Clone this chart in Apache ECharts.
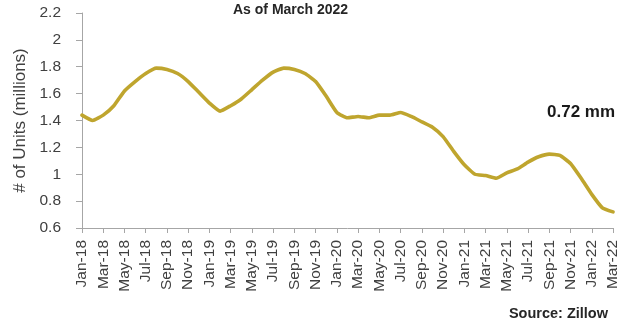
<!DOCTYPE html>
<html>
<head>
<meta charset="utf-8">
<script src="https://cdn.jsdelivr.net/npm/echarts@6/dist/echarts.min.js"></script>
<style>
  html, body { margin: 0; padding: 0; background: #fff; }
  #chart { width: 621px; height: 326px; }
</style>
</head>
<body>
<div id="chart"></div>
<script>
// Monthly inventory, Jan 2018 through Mar 2022 (millions of units)
const months = [
  'Jan-18','Feb-18','Mar-18','Apr-18','May-18','Jun-18','Jul-18','Aug-18','Sep-18','Oct-18','Nov-18','Dec-18',
  'Jan-19','Feb-19','Mar-19','Apr-19','May-19','Jun-19','Jul-19','Aug-19','Sep-19','Oct-19','Nov-19','Dec-19',
  'Jan-20','Feb-20','Mar-20','Apr-20','May-20','Jun-20','Jul-20','Aug-20','Sep-20','Oct-20','Nov-20','Dec-20',
  'Jan-21','Feb-21','Mar-21','Apr-21','May-21','Jun-21','Jul-21','Aug-21','Sep-21','Oct-21','Nov-21','Dec-21',
  'Jan-22','Feb-22','Mar-22'
];
const inventory = [
  1.44, 1.40, 1.44, 1.51, 1.62, 1.69, 1.75, 1.79, 1.78, 1.75, 1.69, 1.61,
  1.53, 1.47, 1.51, 1.56, 1.63, 1.70, 1.76, 1.79, 1.78, 1.75, 1.69, 1.58,
  1.46, 1.42, 1.43, 1.42, 1.44, 1.44, 1.46, 1.43, 1.39, 1.35, 1.28, 1.17,
  1.07, 1.00, 0.99, 0.97, 1.01, 1.04, 1.09, 1.13, 1.15, 1.14, 1.08, 0.97,
  0.85, 0.75, 0.72
];
const yMin = 0.6, yMax = 2.2, yStep = 0.2;
const titleText = 'As of March 2022';
const yAxisTitle = '# of Units (millions)';
const sourceText = 'Source: Zillow';
const latestText = inventory[inventory.length - 1].toFixed(2) + ' mm';

const chart = echarts.init(document.getElementById('chart'), null, { renderer: 'canvas' });
const font = '"Liberation Sans", Arial, sans-serif';
const axisColor = '#a6a6a6';
const textColor = '#404040';

chart.setOption({
  animation: false,
  backgroundColor: '#ffffff',
  textStyle: { fontFamily: font },
  grid: { left: 82, right: 6, top: 13, bottom: 98, containLabel: false },
  graphic: [
    { type: 'text', left: 233, top: 3,
      style: { text: titleText, font: 'bold 14px ' + font, fill: '#262626' } },
    { type: 'text', left: 547, top: 104,
      style: { text: latestText, font: 'bold 17px ' + font, fill: '#1a1a1a' } },
    { type: 'text', right: 13, top: 306,
      style: { text: sourceText, font: 'bold 14.5px ' + font, fill: '#262626' } }
  ],
  xAxis: {
    type: 'category',
    data: months,
    boundaryGap: false,
    axisLine: { lineStyle: { color: axisColor, width: 1 } },
    axisTick: { show: true, interval: 1, length: 5, lineStyle: { color: axisColor } },
    axisLabel: { interval: 1, rotate: 90, fontSize: 15.5, color: textColor, margin: 12, fontFamily: font },
    splitLine: { show: false }
  },
  yAxis: {
    type: 'value',
    min: yMin, max: yMax, interval: yStep,
    name: yAxisTitle,
    nameLocation: 'middle',
    nameGap: 53,
    nameRotate: 90,
    nameTextStyle: { fontSize: 17, color: textColor, fontFamily: font },
    axisLine: { show: true, lineStyle: { color: axisColor, width: 1 } },
    axisTick: { show: true, length: 6, lineStyle: { color: axisColor } },
    axisLabel: { fontSize: 15.5, color: textColor, margin: 21, fontFamily: font,
      formatter: v => String(Math.round(v * 10) / 10) },
    splitLine: { show: false }
  },
  series: [{
    type: 'line',
    data: inventory,
    smooth: 0.15,
    symbol: 'none',
    lineStyle: { color: '#bfa52e', width: 3.6, join: 'round', cap: 'round' }
  }]
});
</script>
</body>
</html>
